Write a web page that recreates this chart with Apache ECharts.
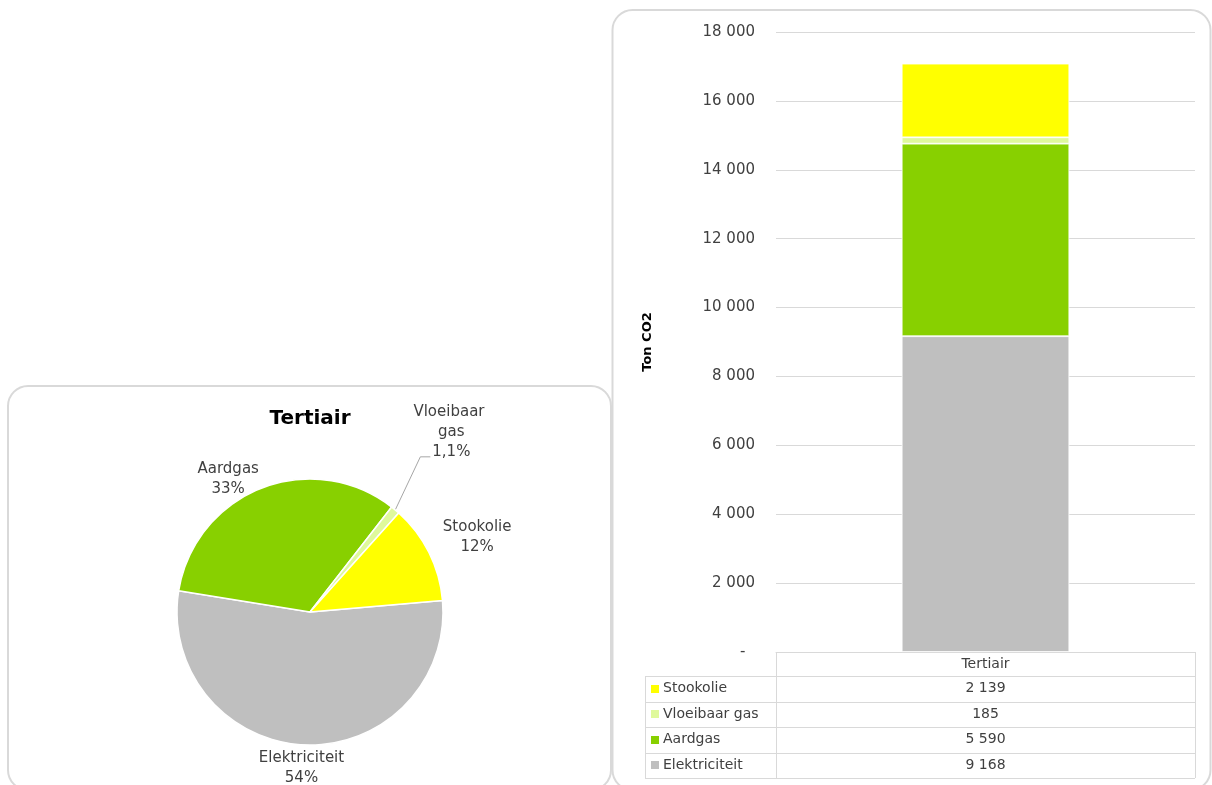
<!DOCTYPE html>
<html>
<head>
<meta charset="utf-8">
<title>Tertiair</title>
<script src="https://cdn.jsdelivr.net/npm/echarts@6/dist/echarts.min.js"></script>
<style>
  html, body { margin: 0; padding: 0; background: #fff; }
  #main { width: 1212px; height: 785px; }
</style>
</head>
<body>
<div id="main"></div>
<script>
// data
const categories = ['Tertiair'];
const seriesNames = ['Elektriciteit', 'Aardgas', 'Vloeibaar gas', 'Stookolie'];
const seriesValues = [9168, 5590, 185, 2139];
const seriesColors = ['#bfbfbf', '#88d000', '#dff99c', '#ffff00'];
// shares as printed on the pie (percent)
const pieShares = [54, 33, 1.1, 12];
const yMax = 18000;
const yStep = 2000;

const FONT = '"DejaVu Sans", sans-serif';
const TEXT = '#404040';
const LINE = '#d9d9d9';

const pieTotal = pieShares.reduce((a, b) => a + b, 0);

// "9 168" style numbers, "-" for zero
const fmtNum = v => String(Math.round(v)).replace(/\B(?=(\d{3})+(?!\d))/g, ' ');
const fmtPct = v => String(v).replace('.', ',') + '%';

// pie geometry
const pieC = [310, 612];
const pieR = 133;
const startClock = 85; // first slice starts here, degrees clockwise from 12 o'clock
const labelGap = [2, 8, 60, 14];
const labelNudge = [[-2, 1], [-19, 17], [-8, -9], [5, 0]];

function midClock(i) {
  let cum = 0;
  for (let k = 0; k < i; k++) cum += pieShares[k];
  return startClock + 360 * (cum + pieShares[i] / 2) / pieTotal;
}

// table under the bar chart
const T = { left: 645, mid: 776, right: 1195, top: 652, head: 24, row: 25.5 };

const graphics = [
  { type: 'rect', silent: true, z: -1,
    shape: { x: 8, y: 386, width: 603, height: 404, r: 20 },
    style: { fill: 'none', stroke: LINE, lineWidth: 2 } },
  { type: 'rect', silent: true, z: -1,
    shape: { x: 612.5, y: 10, width: 598, height: 780, r: 20 },
    style: { fill: 'none', stroke: LINE, lineWidth: 2 } }
];

const hLine = (x1, x2, y) => ({ type: 'line', silent: true,
  shape: { x1: x1, y1: Math.round(y) + 0.5, x2: x2, y2: Math.round(y) + 0.5 },
  style: { stroke: LINE, lineWidth: 1 } });
const vLine = (x, y1, y2) => ({ type: 'line', silent: true,
  shape: { x1: x + 0.5, y1: y1, x2: x + 0.5, y2: y2 },
  style: { stroke: LINE, lineWidth: 1 } });

const rowOrder = seriesNames.map((n, i) => i).reverse();
const tableBottom = T.top + T.head + rowOrder.length * T.row;

graphics.push(hLine(T.left, T.right, T.top + T.head));
rowOrder.forEach((si, r) => {
  const y0 = T.top + T.head + r * T.row;
  const yc = y0 + T.row / 2;
  graphics.push(hLine(T.left, T.right, y0 + T.row));
  graphics.push({ type: 'rect', silent: true,
    shape: { x: 651, y: Math.round(yc) - 4, width: 8, height: 8 },
    style: { fill: seriesColors[si] } });
  graphics.push({ type: 'text', silent: true,
    style: { text: seriesNames[si], x: 663, y: yc, verticalAlign: 'middle',
      fontFamily: FONT, fontSize: 14, fill: TEXT } });
  graphics.push({ type: 'text', silent: true,
    style: { text: fmtNum(seriesValues[si]), x: (T.mid + T.right) / 2, y: yc,
      align: 'center', verticalAlign: 'middle', fontFamily: FONT, fontSize: 14, fill: TEXT } });
});
graphics.push(vLine(T.left, T.top + T.head, tableBottom));
graphics.push(vLine(T.mid, T.top, tableBottom));
graphics.push(vLine(T.right, T.top, tableBottom));

const pieData = seriesNames.map((n, i) => {
  const d = { name: n, value: pieShares[i], itemStyle: { color: seriesColors[i] } };
  if (i === 2) {
    d.labelLine = { show: true };
    d.label = { width: 80, overflow: 'break' };
  }
  return d;
});

const option = {
  animation: false,
  backgroundColor: '#fff',
  textStyle: { fontFamily: FONT },
  title: {
    text: 'Tertiair',
    left: 305,
    top: 404,
    textAlign: 'center',
    textStyle: { fontFamily: FONT, fontSize: 20, fontWeight: 'bold', color: '#000' }
  },
  graphic: graphics,
  grid: { left: 776, right: 1212 - 1195, top: 32, bottom: 785 - 652 },
  xAxis: {
    type: 'category',
    data: categories,
    axisLine: { lineStyle: { color: LINE } },
    axisTick: { show: false },
    axisLabel: { color: TEXT, fontFamily: FONT, fontSize: 14, margin: 5 }
  },
  yAxis: {
    type: 'value',
    min: 0,
    max: yMax,
    interval: yStep,
    name: 'Ton CO2',
    nameLocation: 'middle',
    nameGap: 122,
    nameTextStyle: { fontFamily: FONT, fontSize: 13, fontWeight: 'bold', color: '#000' },
    axisLine: { show: false },
    axisTick: { show: false },
    splitLine: { lineStyle: { color: LINE, width: 1 } },
    axisLabel: {
      color: TEXT, fontFamily: FONT, fontSize: 15, margin: 21,
      formatter: v => (v === 0 ? '-  ' : fmtNum(v))
    }
  },
  series: seriesNames.map((n, i) => ({
    name: n,
    type: 'bar',
    stack: 'total',
    barWidth: '40%',
    data: [seriesValues[i]],
    itemStyle: { color: seriesColors[i], borderColor: '#fff', borderWidth: 0.8 }
  })).concat([{
    name: 'Tertiair',
    type: 'pie',
    center: pieC,
    radius: pieR,
    startAngle: 90 - startClock,
    clockwise: true,
    avoidLabelOverlap: false,
    data: pieData,
    itemStyle: { borderColor: '#fff', borderWidth: 1.5 },
    label: {
      show: true,
      position: 'outside',
      color: TEXT,
      fontFamily: FONT,
      fontSize: 15,
      lineHeight: 20,
      align: 'center',
      formatter: p => p.name + '\n' + fmtPct(p.value)
    },
    labelLine: { show: false, length: 10, length2: 10, lineStyle: { color: '#a6a6a6', width: 1 } },
    labelLayout: p => {
      const i = p.dataIndex;
      const a = midClock(i) * Math.PI / 180;
      const ux = Math.sin(a), uy = -Math.cos(a);
      const w = p.labelRect.width, h = p.labelRect.height;
      const d = pieR + labelGap[i];
      const x = pieC[0] + d * ux + ux * w / 2 + labelNudge[i][0];
      const y = pieC[1] + d * uy + uy * h / 2 + labelNudge[i][1];
      const out = { x: x, y: y, align: 'center', verticalAlign: 'middle' };
      if (i === 2) {
        const ly = y + h / 2 - 5;
        out.labelLinePoints = [
          [pieC[0] + pieR * ux, pieC[1] + pieR * uy],
          [x - 31, ly],
          [x - 21, ly]
        ];
      }
      return out;
    }
  }])
};

const chart = echarts.init(document.getElementById('main'));
chart.setOption(option);
</script>
</body>
</html>
